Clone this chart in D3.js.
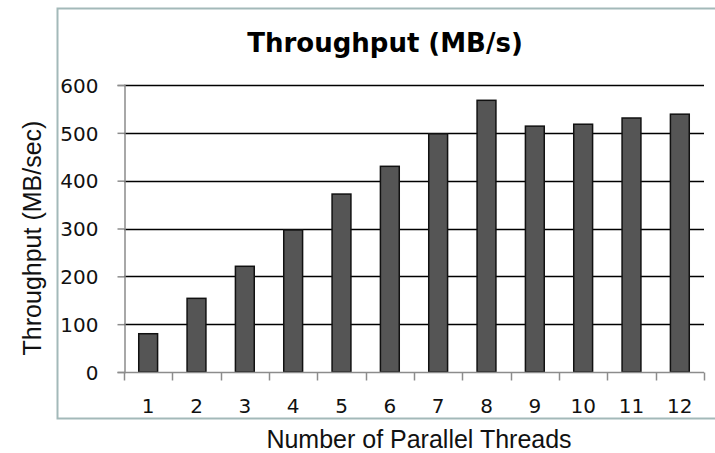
<!DOCTYPE html>
<html>
<head>
<meta charset="utf-8">
<script src="https://cdn.jsdelivr.net/npm/d3@7"></script>
<style>
  body{margin:0;background:#fff;}
  svg{display:block;}
</style>
</head>
<body>
<div id="chart"></div>
<script>
// threads vs throughput
var threads = ["1","2","3","4","5","6","7","8","9","10","11","12"];
var throughput = [80, 154, 221, 297, 372, 430, 498, 568, 514, 518, 531, 539];
var yTicks = [0, 100, 200, 300, 400, 500, 600];

var W = 715, H = 453;
var plot = {left:124, right:704, top:85, bottom:372};

var svg = d3.select("#chart").append("svg")
    .attr("width", W).attr("height", H);

// outer frame
svg.append("rect")
    .attr("x", 57.5).attr("y", 8.5)
    .attr("width", 700).attr("height", 410)
    .attr("fill", "#fff")
    .attr("stroke", "#a3b9b9")
    .attr("stroke-width", 2);

var x = d3.scaleBand().domain(threads)
    .range([plot.left, plot.right])
    .paddingInner(0.61).paddingOuter(0.305);
var xOuter = d3.scaleBand().domain(threads).range([plot.left, plot.right]);
var y = d3.scaleLinear().domain([0, 600]).range([plot.bottom, plot.top]);

// gridlines
svg.append("g").selectAll("line")
    .data(yTicks.filter(function(d){return d>0;}))
    .enter().append("line")
    .attr("x1", plot.left).attr("x2", plot.right)
    .attr("y1", function(d){return Math.round(y(d))+0.5;})
    .attr("y2", function(d){return Math.round(y(d))+0.5;})
    .attr("stroke", "#000").attr("stroke-width", 1.3);

// y axis
var yAxis = svg.append("g")
    .attr("transform", "translate(" + (plot.left+0.5) + ",0)")
    .call(d3.axisLeft(y).tickValues(yTicks).tickSize(7).tickPadding(19));
yAxis.select(".domain").attr("stroke", "#8c8c8c").attr("stroke-width", 1.5);
yAxis.selectAll(".tick line").attr("stroke", "#8c8c8c").attr("stroke-width", 1.5);
yAxis.selectAll("text")
    .attr("font-family", "'DejaVu Sans', Verdana, sans-serif")
    .attr("font-size", 20).attr("fill", "#111")
    .attr("dy", "0.36em");

// bars
svg.append("g").selectAll("rect")
    .data(throughput)
    .enter().append("rect")
    .attr("x", function(d,i){return x(threads[i]);})
    .attr("width", x.bandwidth())
    .attr("y", function(d){return y(d);})
    .attr("height", function(d){return y(0)-y(d);})
    .attr("fill", "#555555")
    .attr("stroke", "#111")
    .attr("stroke-width", 1.5);

// x axis
var xAxisG = svg.append("g")
    .attr("transform", "translate(0," + (plot.bottom+0.5) + ")");
xAxisG.append("line")
    .attr("x1", plot.left).attr("x2", plot.right)
    .attr("stroke", "#8c8c8c").attr("stroke-width", 1.5);
var edges = threads.map(function(t){return xOuter(t);}).concat([plot.right]);
xAxisG.selectAll("line.tk").data(edges).enter().append("line")
    .attr("class", "tk")
    .attr("x1", function(d){return Math.round(d)+0.5;})
    .attr("x2", function(d){return Math.round(d)+0.5;})
    .attr("y1", 0).attr("y2", 8)
    .attr("stroke", "#8c8c8c").attr("stroke-width", 1.5);
xAxisG.selectAll("text").data(threads).enter().append("text")
    .attr("x", function(d){return xOuter(d)+xOuter.bandwidth()/2;})
    .attr("y", 40)
    .attr("text-anchor", "middle")
    .attr("font-family", "'DejaVu Sans', Verdana, sans-serif")
    .attr("font-size", 20).attr("fill", "#111")
    .text(function(d){return d;});

// titles
svg.append("text")
    .attr("x", 385).attr("y", 52)
    .attr("text-anchor", "middle")
    .attr("font-family", "'DejaVu Sans', Verdana, sans-serif")
    .attr("font-weight", "bold")
    .attr("font-size", 26).attr("fill", "#000")
    .text("Throughput (MB/s)");

svg.append("text")
    .attr("x", 419).attr("y", 448)
    .attr("text-anchor", "middle")
    .attr("font-family", "'Liberation Sans', Arial, sans-serif")
    .attr("font-size", 25).attr("fill", "#111")
    .text("Number of Parallel Threads");

svg.append("text")
    .attr("transform", "translate(41,238) rotate(-90)")
    .attr("text-anchor", "middle")
    .attr("font-family", "'Liberation Sans', Arial, sans-serif")
    .attr("font-size", 25).attr("fill", "#111")
    .text("Throughput (MB/sec)");
</script>
</body>
</html>
